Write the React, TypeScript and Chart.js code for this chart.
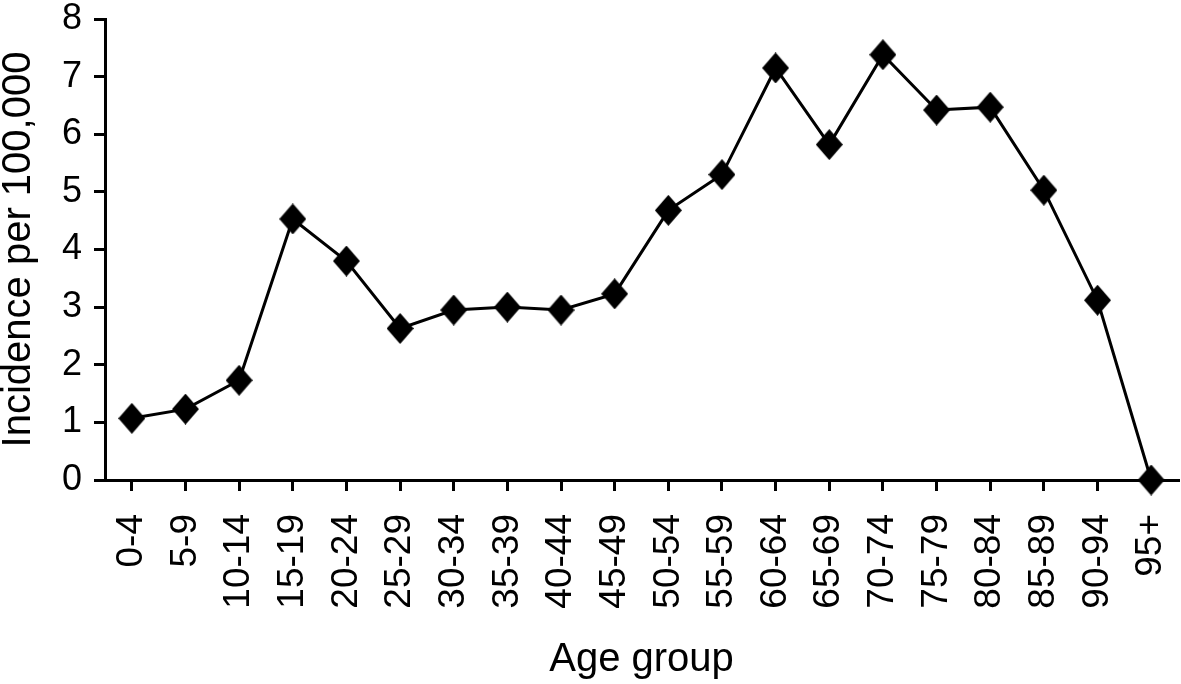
import React, { useEffect, useRef } from "react";
import { Chart, registerables } from "chart.js";

Chart.register(...registerables);

const ageGroups = [
  "0-4", "5-9", "10-14", "15-19", "20-24", "25-29", "30-34", "35-39", "40-44", "45-49",
  "50-54", "55-59", "60-64", "65-69", "70-74", "75-79", "80-84", "85-89", "90-94", "95+",
];
const incidence = [
  1.07, 1.23, 1.73, 4.53, 3.8, 2.63, 2.95, 3.0, 2.95, 3.23,
  4.68, 5.3, 7.15, 5.82, 7.38, 6.42, 6.47, 5.03, 3.12, 0,
];
const yTicks = [0, 1, 2, 3, 4, 5, 6, 7, 8];

function makeDiamond(w: number, h: number) {
  const c = document.createElement("canvas");
  c.width = w;
  c.height = h;
  const g = c.getContext("2d")!;
  g.fillStyle = "#000";
  g.beginPath();
  g.moveTo(w / 2, 0);
  g.lineTo(w, h / 2);
  g.lineTo(w / 2, h);
  g.lineTo(0, h / 2);
  g.closePath();
  g.fill();
  return c;
}

export default function App() {
  const ref = useRef<HTMLCanvasElement>(null);
  useEffect(() => {
    document.body.style.margin = "0";
    const ctx = ref.current!.getContext("2d")!;
    const font = "'Liberation Sans', Arial, sans-serif";
    const diamond = makeDiamond(27, 31);
    const chart = new Chart(ctx, {
      type: "line",
      data: {
        labels: ageGroups,
        datasets: [
          {
            data: incidence,
            borderColor: "#000",
            backgroundColor: "#000",
            borderWidth: 3,
            pointStyle: diamond as any,
            pointRadius: 1,
            pointHoverRadius: 1,
            pointBorderWidth: 0,
            tension: 0,
            clip: false as any,
          },
        ],
      },
      options: {
        animation: false,
        responsive: false,
        layout: { padding: { top: 19, right: 3, left: 0, bottom: 0 } },
        plugins: { legend: { display: false }, tooltip: { enabled: false } },
        scales: {
          x: {
            type: "category",
            offset: true,
            grid: {
              display: true,
              offset: false,
              drawOnChartArea: false,
              drawTicks: true,
              tickLength: 11,
              color: "#000",
              lineWidth: 3,
            },
            border: { display: true, color: "#000", width: 3 },
            ticks: {
              color: "#000",
              font: { family: font, size: 37 },
              minRotation: 90,
              maxRotation: 90,
              autoSkip: false,
              padding: 23,
            },
            title: {
              display: true,
              text: "Age group",
              color: "#000",
              font: { family: font, size: 40 },
              padding: { top: 0, bottom: 0 },
            },
            afterFit: (s: any) => {
              s.height = 204;
              s.paddingLeft = 0;
              s.paddingRight = 0;
            },
          },
          y: {
            min: 0,
            max: 8,
            afterBuildTicks: (s: any) => {
              s.ticks = yTicks.map((v) => ({ value: v }));
            },
            grid: {
              display: true,
              drawOnChartArea: false,
              drawTicks: true,
              tickLength: 11,
              color: "#000",
              lineWidth: 3,
            },
            border: { display: true, color: "#000", width: 3 },
            ticks: {
              color: "#000",
              font: { family: font, size: 36 },
              padding: 12,
            },
            title: {
              display: true,
              text: "Incidence per 100,000",
              color: "#000",
              font: { family: font, size: 40 },
              padding: { top: -5, bottom: 7 },
            },
            afterFit: (s: any) => {
              s.width = 105;
              s.paddingTop = 0;
              s.paddingBottom = 0;
            },
          },
        },
      },
    });
    return () => chart.destroy();
  }, []);
  return (
    <div style={{ position: "fixed", left: 0, top: 0, width: 1181, height: 684, background: "#fff" }}>
      <canvas ref={ref} width={1181} height={684} />
    </div>
  );
}
